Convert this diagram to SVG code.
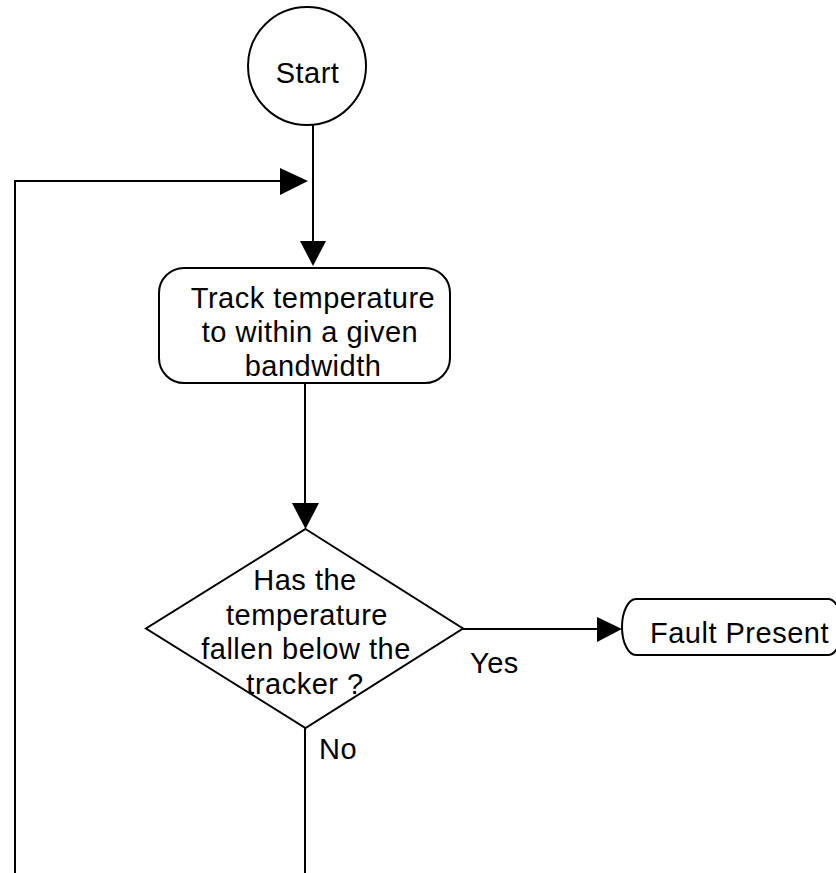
<svg xmlns="http://www.w3.org/2000/svg" width="836" height="873" viewBox="0 0 836 873">
  <defs>
    <style>
      .shape { fill: #ffffff; stroke: #000000; stroke-width: 2; }
      .link { fill: none; stroke: #000000; stroke-width: 2; }
      .head { fill: #000000; stroke: none; }
      text { font-family: "Liberation Sans", Arial, sans-serif; font-size: 29px; letter-spacing: 0.5px; fill: #000000; }
      .mid { text-anchor: middle; }
    </style>
  </defs>
  <rect width="836" height="873" fill="#ffffff"/>

  <g id="connectors">
    <!-- Start to process -->
    <line class="link" x1="313" y1="125" x2="313" y2="244"/>
    <polygon class="head" points="300,241 326,241 313,266"/>
    <!-- loop back from the bottom -->
    <polyline class="link" points="15,873 15,181 283,181"/>
    <polygon class="head" points="280,168 280,195 308,181"/>
    <!-- process to decision -->
    <line class="link" x1="305" y1="383" x2="305" y2="506"/>
    <polygon class="head" points="292,503 319,503 305.5,529"/>
    <!-- Yes branch -->
    <line class="link" x1="463" y1="629" x2="600" y2="629"/>
    <polygon class="head" points="597,617 597,642 622,629"/>
    <!-- No branch -->
    <line class="link" x1="305" y1="728" x2="305" y2="873"/>
    <text x="470" y="673">Yes</text>
    <text x="319" y="759">No</text>
  </g>

  <g id="start">
    <circle class="shape" cx="307" cy="66" r="59"/>
    <text class="mid" x="307.5" y="83">Start</text>
  </g>

  <g id="track">
    <rect class="shape" x="159" y="268" width="291" height="115" rx="25" ry="25"/>
    <text class="mid" x="313" y="308">Track temperature</text>
    <text class="mid" x="310" y="342">to within a given</text>
    <text class="mid" x="313" y="376">bandwidth</text>
  </g>

  <g id="decision">
    <polygon class="shape" points="305.5,529 463,628.5 305.5,728 146,628.5"/>
    <text class="mid" x="305" y="590">Has the</text>
    <text class="mid" x="307" y="624.5">temperature</text>
    <text class="mid" x="306" y="659">fallen below the</text>
    <text class="mid" x="305" y="693.5">tracker ?</text>
  </g>

  <g id="fault">
    <rect class="shape" x="622" y="599" width="220" height="56" rx="14" ry="28"/>
    <text x="650" y="643">Fault Present</text>
  </g>
</svg>
